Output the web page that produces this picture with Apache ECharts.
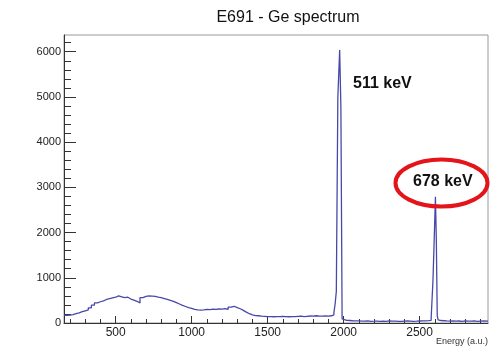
<!DOCTYPE html>
<html>
<head>
<meta charset="utf-8">
<script src="https://cdn.jsdelivr.net/npm/echarts@6/dist/echarts.min.js"></script>
<style>
html,body{margin:0;padding:0;background:#fff;}
#c{width:492px;height:347px;}
</style>
</head>
<body>
<div id="c"></div>
<script>
// ---- data (bin left edges in a.u., counts per bin) ----
var binStart = [
  160,180,200,220,240,260,280,300,320,340,360,380,400,420,440,460,480,500,520,540,
  560,580,600,620,640,660,680,700,720,740,760,780,800,820,840,860,880,900,920,940,
  960,980,1000,1020,1040,1060,1080,1100,1120,1140,1160,1180,1200,1220,1240,1260,1280,1300,1320,1340,
  1360,1380,1400,1420,1440,1460,1480,1500,1520,1540,1560,1580,1600,1620,1640,1660,1680,1700,1720,1740,
  1760,1780,1800,1820,1840,1860,1880,1900,1920,1936,1944,1952,1962,1974,1982,1990,
  2000,2020,2040,2060,2080,2100,2120,2140,2160,2180,2200,2220,2240,2260,2280,2300,2320,2340,2360,2380,
  2400,2420,2440,2460,2480,2500,2520,2540,2560,2576,2588,2596,2604,2610,2616,2622,2630,
  2640,2660,2680,2700,2720,2740,2760,2780,2800,2820,2840,2860,2880,2900,2920,2950
];
var counts = [
  170,175,185,205,225,250,270,290,335,395,445,470,490,520,540,555,570,600,580,560,
  570,530,505,480,445,560,590,600,595,590,570,560,540,520,500,480,450,420,390,365,
  340,325,300,290,285,292,300,295,305,300,310,305,318,300,350,370,340,315,280,240,
  205,180,165,160,150,145,140,140,138,142,140,145,140,138,142,140,145,150,140,148,
  155,150,160,152,150,155,150,160,180,230,420,700,5000,6040,4780,90,
  60,55,50,48,45,42,40,47,38,40,43,36,41,38,46,40,43,38,36,41,
  46,42,38,40,44,48,46,52,60,110,950,1840,2790,1840,160,70,55,
  50,45,42,48,40,44,38,46,42,40,45,38,42,44,40,40
];
var xMajor = [500, 1000, 1500, 2000, 2500];
var yMajor = [0, 1000, 2000, 3000, 4000, 5000, 6000];
var titleText = 'E691 - Ge spectrum';
var xTitle = 'Energy (a.u.)';
var peakLabels = ['511 keV', '678 keV'];

var pts = [];
for (var i = 0; i < binStart.length; i++) pts.push([binStart[i], counts[i]]);

var xMinor = [];
for (var v = 200; v <= 2900; v += 100) xMinor.push(v);
var yMinor = [];
for (var w = 0; w <= 6200; w += 200) yMinor.push(w);

var XMIN = 160, XMAX = 2950, YMAX = 6370;
var plain = function (val) { return String(val); };
var chart = echarts.init(document.getElementById('c'), null, {renderer: 'canvas'});
var axCol = '#333';
chart.setOption({
  animation: false,
  backgroundColor: '#fff',
  grid: {left: 64, right: 4, top: 35, bottom: 24, show: true, borderColor: '#9a9a9a', borderWidth: 1},
  xAxis: [
    {type: 'value', min: XMIN, max: XMAX, position: 'bottom',
     axisLine: {show: true, onZero: false, lineStyle: {color: axCol, width: 1}},
     axisTick: {show: true, inside: true, length: 7, customValues: xMajor, lineStyle: {color: axCol}},
     axisLabel: {customValues: xMajor, formatter: plain, color: '#222', fontSize: 12, fontFamily: 'Liberation Sans', margin: 4},
     splitLine: {show: false}},
    {type: 'value', min: XMIN, max: XMAX, position: 'bottom',
     axisLine: {show: false},
     axisTick: {show: true, inside: true, length: 4, customValues: xMinor, lineStyle: {color: axCol}},
     axisLabel: {show: false}, splitLine: {show: false}}
  ],
  yAxis: [
    {type: 'value', min: 0, max: YMAX, position: 'left',
     axisLine: {show: true, onZero: false, lineStyle: {color: axCol, width: 1}},
     axisTick: {show: true, inside: true, length: 12, customValues: yMajor, lineStyle: {color: axCol}},
     axisLabel: {customValues: yMajor, formatter: plain, color: '#222', fontSize: 11, fontFamily: 'Liberation Sans', margin: 3},
     splitLine: {show: false}},
    {type: 'value', min: 0, max: YMAX, position: 'left',
     axisLine: {show: false},
     axisTick: {show: true, inside: true, length: 7, customValues: yMinor, lineStyle: {color: axCol}},
     axisLabel: {show: false}, splitLine: {show: false}}
  ],
  series: [{
    type: 'line', xAxisIndex: 0, yAxisIndex: 0, step: 'end', showSymbol: false,
    data: pts, lineStyle: {color: '#4848aa', width: 1.3}, z: 3
  }],
  graphic: [
    {type: 'text', x: 288, y: 18, style: {text: titleText, fill: '#111', font: '16px "Liberation Sans"', textAlign: 'center', textVerticalAlign: 'middle'}},
    {type: 'text', x: 488, y: 342, style: {text: xTitle, fill: '#333', font: '9px "Liberation Sans"', textAlign: 'right', textVerticalAlign: 'middle'}},
    {type: 'text', x: 353, y: 84, style: {text: peakLabels[0], fill: '#111', font: 'bold 16px "Liberation Sans"', textAlign: 'left', textVerticalAlign: 'middle'}},
    {type: 'text', x: 413, y: 182, style: {text: peakLabels[1], fill: '#111', font: 'bold 16px "Liberation Sans"', textAlign: 'left', textVerticalAlign: 'middle'}},
    {type: 'ellipse', shape: {cx: 441.5, cy: 183, rx: 46, ry: 23.5}, style: {fill: 'none', stroke: '#e4141b', lineWidth: 4}, z: 10}
  ]
});
</script>
</body>
</html>
